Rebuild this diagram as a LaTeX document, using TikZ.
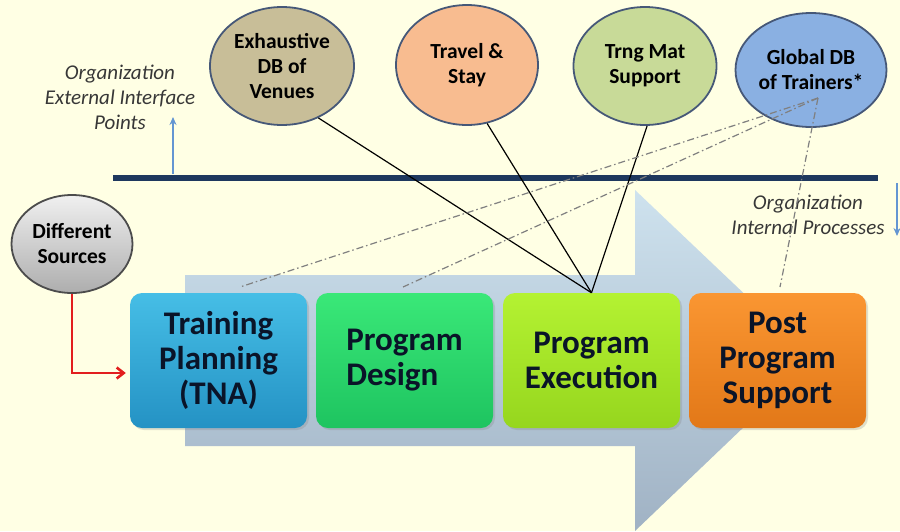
\documentclass[tikz,border=0pt]{standalone}
\usepackage{fontspec}
\setmainfont{Carlito}
\usetikzlibrary{shapes.geometric,shadows,arrows.meta,calc}
\definecolor{bgc}{RGB}{255,255,228}
\definecolor{navy}{RGB}{30,56,94}
\definecolor{ellborder}{RGB}{70,88,120}
\definecolor{venuesc}{RGB}{200,190,152}
\definecolor{travelc}{RGB}{248,188,144}
\definecolor{trngc}{RGB}{200,218,152}
\definecolor{globalc}{RGB}{138,176,226}
\definecolor{arrowtop}{RGB}{206,226,238}
\definecolor{arrowbot}{RGB}{160,178,196}
\definecolor{bluetop}{RGB}{70,190,230}
\definecolor{bluebot}{RGB}{36,146,196}
\definecolor{greentop}{RGB}{58,232,120}
\definecolor{greenbot}{RGB}{30,196,96}
\definecolor{limetop}{RGB}{180,242,50}
\definecolor{limebot}{RGB}{150,214,30}
\definecolor{orangetop}{RGB}{250,150,50}
\definecolor{orangebot}{RGB}{226,120,24}
\definecolor{labelc}{RGB}{55,55,55}
\definecolor{upblue}{RGB}{100,150,210}
\definecolor{redc}{RGB}{226,30,30}
\definecolor{boxtext}{RGB}{10,20,40}
\tikzset{
  stage/.style={rounded corners=12pt, minimum width=177pt, minimum height=135pt,
    inner sep=0pt, text=boxtext, align=center,
    font=\bfseries\fontsize{33}{35}\selectfont,
    drop shadow={shadow xshift=2pt, shadow yshift=-2pt, opacity=0.25}},
  bubble/.style={ellipse, draw=ellborder, line width=1.8pt, inner sep=0pt,
    align=center, text=black, font=\bfseries\fontsize{21.5}{25}\selectfont},
  italabel/.style={align=center, text=labelc, font=\itshape\fontsize{21}{25}\selectfont},
  link/.style={draw=black, line width=1.2pt},
  dashlink/.style={draw=black!50, line width=1.2pt, dash pattern=on 7pt off 3pt on 1.5pt off 3pt}
}
\begin{document}
\begin{tikzpicture}[x=1pt,y=-1pt]
\useasboundingbox (0,0) rectangle (900,531);
\fill[bgc] (0,0) rectangle (900,531);
% big arrow
\shade[top color=arrowtop, bottom color=arrowbot]
  (185,275) -- (635,275) -- (635,190) -- (814,360) -- (635,531) -- (635,446) -- (185,446) -- cycle;
% horizontal divider
\coordinate (h1) at (113,178);
\coordinate (h2) at (878,178);
\draw[navy, line width=6pt] (h1) -- (h2);
% small arrows
\coordinate (ub) at (173,174);
\coordinate (ut) at (173,117);
\draw[upblue, line width=2pt, -{Stealth[length=8pt,width=7pt]}] (ub) -- (ut);
\coordinate (db) at (897,183);
\coordinate (dt) at (897,236);
\draw[upblue, line width=2pt, -{Stealth[length=8pt,width=7pt]}] (db) -- (dt);
% labels
\node[italabel] (extl) at (120,97) {Organization\\External Interface\\Points};
\node[italabel] (intl) at (808,215) {Organization\\Internal Processes};
% stages
\node[stage, top color=bluetop, bottom color=bluebot] (train) at (218.5,360.5) {Training\\Planning\\(TNA)};
\node[stage, top color=greentop, bottom color=greenbot, align=left] (design) at (404.5,360.5) {Program\\Design};
\node[stage, top color=limetop, bottom color=limebot] (exec) at (591.5,360.5) {Program\\Execution};
\node[stage, top color=orangetop, bottom color=orangebot] (post) at (777.5,360.5) {Post\\Program\\Support};
% bubbles
\node[bubble, fill=venuesc, minimum width=144pt, minimum height=118pt] (venues) at (282,66) {Exhaustive\\DB of\\Venues};
\node[bubble, fill=travelc, minimum width=142pt, minimum height=120pt] (travel) at (467,65) {Travel \&\\Stay};
\node[bubble, fill=trngc, minimum width=143pt, minimum height=118pt] (trng) at (645,66) {Trng Mat\\Support};
\node[bubble, fill=globalc, minimum width=151pt, minimum height=114pt] (global) at (811,70) {Global DB\\of Trainers*};
\node[bubble, draw=black!70, top color=white!94!black, bottom color=black!32, minimum width=121pt, minimum height=98pt] (src) at (72,244) {Different\\Sources};
% connectors
\draw[link] (venues.-55) -- (exec.north);
\draw[link] (travel.-71) -- (exec.north);
\draw[link] (trng.-88) -- (exec.north);
\coordinate (g) at (818,98);
\coordinate (t1) at (240,287);
\coordinate (d1) at (403,287);
\coordinate (p1) at (780,287);
\draw[dashlink] (g) -- (t1);
\draw[dashlink] (g) -- (d1);
\draw[dashlink] (g) -- (p1);
\draw[redc, line width=2.6pt, -{Straight Barb[length=7pt,width=11pt]}, shorten >=4pt]
  (src.south) |- ($(train.west)+(0,12.5)$);
\end{tikzpicture}
\end{document}
